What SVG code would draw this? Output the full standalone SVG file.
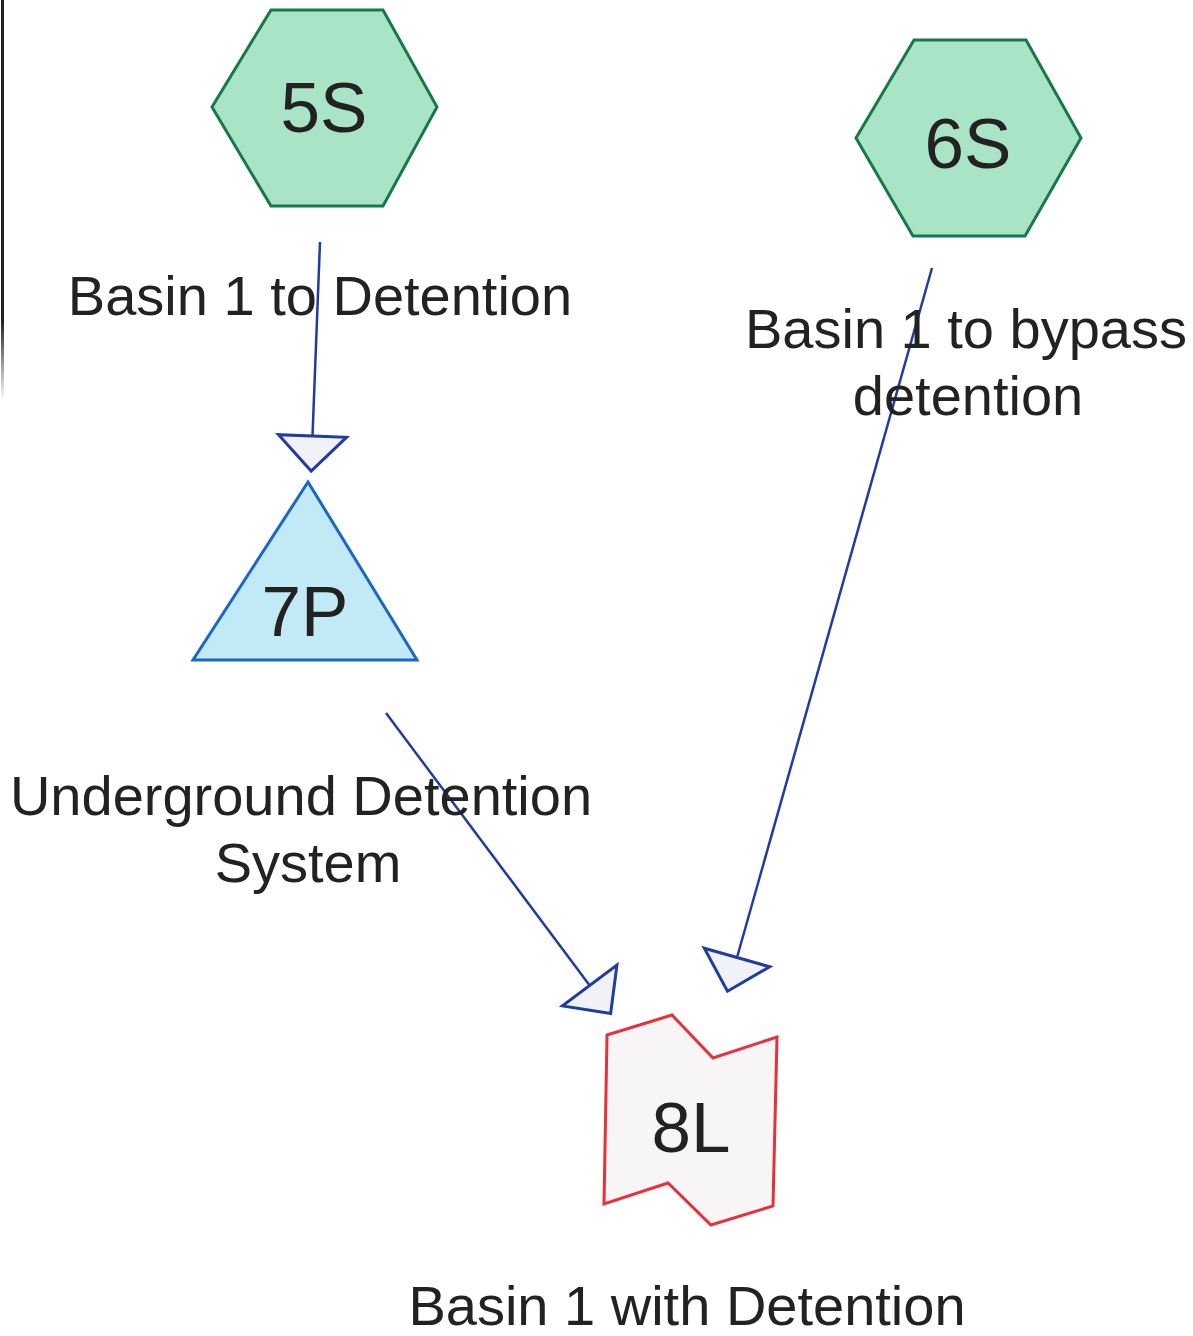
<svg xmlns="http://www.w3.org/2000/svg" width="1193" height="1336" viewBox="0 0 1193 1336">
  <style>
    .hex { fill: #a9e4c6; stroke: #17784a; stroke-width: 3; stroke-linejoin: miter; }
    .pond { fill: #c2e9f6; stroke: #1b67c2; stroke-width: 3; stroke-linejoin: miter; }
    .link { fill: #f8f5f7; stroke: #e8303a; stroke-width: 3; stroke-linejoin: miter; }
    .id { font-family: "Liberation Sans", Arial, sans-serif; font-size: 71px; fill: #222222; text-anchor: middle; }
    .cap { font-family: "Liberation Sans", Arial, sans-serif; font-size: 56px; fill: #222222; text-anchor: middle; }
    .edge { fill: none; stroke: #1f3c9e; stroke-width: 2.5; }
  </style>
  <defs>
    <marker id="head" markerUnits="userSpaceOnUse" viewBox="-5 -40 50 80" markerWidth="50" markerHeight="80" refX="0" refY="0" orient="auto" overflow="visible">
      <path d="M0,-34 L35,0 L0,34 Z" fill="#f1f2f8" stroke="#1f3c9e" stroke-width="3" stroke-linejoin="miter"/>
    </marker>
    <linearGradient id="edgeFade" x1="0" y1="0" x2="0" y2="1">
      <stop offset="0" stop-color="#202020"/>
      <stop offset="0.8" stop-color="#202020"/>
      <stop offset="1" stop-color="#202020" stop-opacity="0"/>
    </linearGradient>
  </defs>

  <rect width="1193" height="1336" fill="#ffffff"/>

  <!-- page border on the left edge -->
  <rect x="1" y="0" width="3" height="400" fill="url(#edgeFade)"/>

  <!-- connectors -->
  <g id="connectors">
    <line class="edge" x1="320" y1="242" x2="312.5" y2="436" marker-end="url(#head)"/>
    <line class="edge" x1="386" y1="713" x2="589.7" y2="985.5" marker-end="url(#head)"/>
    <line class="edge" x1="932" y1="268" x2="737" y2="957.5" marker-end="url(#head)"/>
  </g>

  <!-- subcatchment 5S -->
  <g id="node-5S">
    <polygon class="hex" points="271,10 383,10 437,107 383,206 271,206 212,107"/>
    <text class="id" x="324" y="132">5S</text>
    <text class="cap" x="320" y="315">Basin 1 to Detention</text>
  </g>

  <!-- subcatchment 6S -->
  <g id="node-6S">
    <polygon class="hex" points="914,40 1026,40 1081,138 1025,236 913,236 856,138"/>
    <text class="id" x="968" y="168">6S</text>
    <text class="cap" x="966" y="348">Basin 1 to bypass</text>
    <text class="cap" x="968" y="415">detention</text>
  </g>

  <!-- pond 7P -->
  <g id="node-7P">
    <polygon class="pond" points="308,482 417,660 193,660"/>
    <text class="id" x="305" y="636">7P</text>
    <text class="cap" x="301" y="815">Underground Detention</text>
    <text class="cap" x="308" y="882">System</text>
  </g>

  <!-- link 8L -->
  <g id="node-8L">
    <polygon class="link" points="607,1035 672,1015 713,1058 777,1037 773,1206 711,1225 668,1183 604,1204"/>
    <text class="id" x="691" y="1152">8L</text>
    <text class="cap" x="687" y="1325">Basin 1 with Detention</text>
  </g>
</svg>
